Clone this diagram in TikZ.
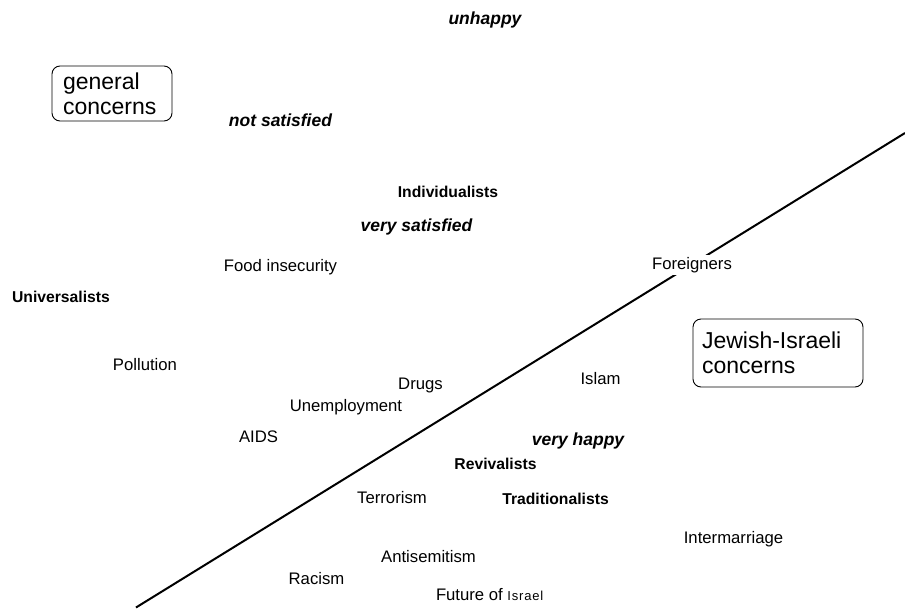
\documentclass[tikz,border=0pt]{standalone}
\usepackage{fontspec}
\setmainfont{Liberation Sans}
\usepackage{tikz}

\begin{document}
\begin{tikzpicture}[x = 1pt, y = -1pt, line width = 2pt,
                        concern/.style = {inner sep = 1pt, font = \fontsize{16.7}{20}\selectfont},
                        group/.style = {inner sep = 1pt, font = \fontsize{15.7}{19}\selectfont\bfseries},
                        mood/.style = {inner sep = 1pt, font = \fontsize{17.5}{20}\selectfont\bfseries\itshape},
                        field/.style = {draw, line width = 0.9pt, rounded corners = 8pt, align = left,
                                        inner ysep = 0pt, font = \fontsize{23}{25}\selectfont}]
      \useasboundingbox (0, 0) rectangle (905, 608);
      \coordinate (lo) at (136, 607.5);
      \coordinate (hi) at (905, 133);
      \draw (lo) -- (hi);
      \node [field, text width = 98pt, inner xsep = 11pt, minimum height = 55pt] (general) at (112, 93.5){general\\concerns};
      \node [field, text width = 152pt, inner xsep = 9pt, minimum height = 68pt] (jewish) at (778, 353){Jewish-Israeli\\concerns};
      \node [mood] (unhappy) at (485, 20){unhappy};
      \node [mood] (notsat) at (280.5, 120){not satisfied};
      \node [mood] (verysat) at (416.5, 226.5){very satisfied};
      \node [mood] (veryhappy) at (578, 441){very happy};
      \node [group] (individ) at (448, 192){Individualists};
      \node [group] (universal) at (61, 296.5){Universalists};
      \node [group] (revival) at (495.5, 463.5){Revivalists};
      \node [group] (tradition) at (555.5, 498.5){Traditionalists};
      \node [concern] (food) at (280.5, 267.5){Food insecurity};
      \node [concern] (pollution) at (145, 365){Pollution};
      \node [concern] (drugs) at (420.5, 385.5){Drugs};
      \node [concern] (unemploy) at (346, 407){Unemployment};
      \node [concern] (aids) at (258.5, 436.5){AIDS};
      \node [concern] (terror) at (392, 498){Terrorism};
      \node [concern] (antisem) at (428.5, 557){Antisemitism};
      \node [concern] (racism) at (316.5, 579){Racism};
      \node [concern, anchor = base west] (future) at (434, 600){Future of {\fontsize{13}{15}\selectfont\addfontfeature{LetterSpace = 6}Israel}};
      \node [concern, fill = white, inner sep = 2pt] (foreign) at (692, 265){Foreigners};
      \node [concern] (islam) at (600.5, 378.5){Islam};
      \node [concern] (intermar) at (733.5, 539.5){Intermarriage};
    \end{tikzpicture}
\end{document}
